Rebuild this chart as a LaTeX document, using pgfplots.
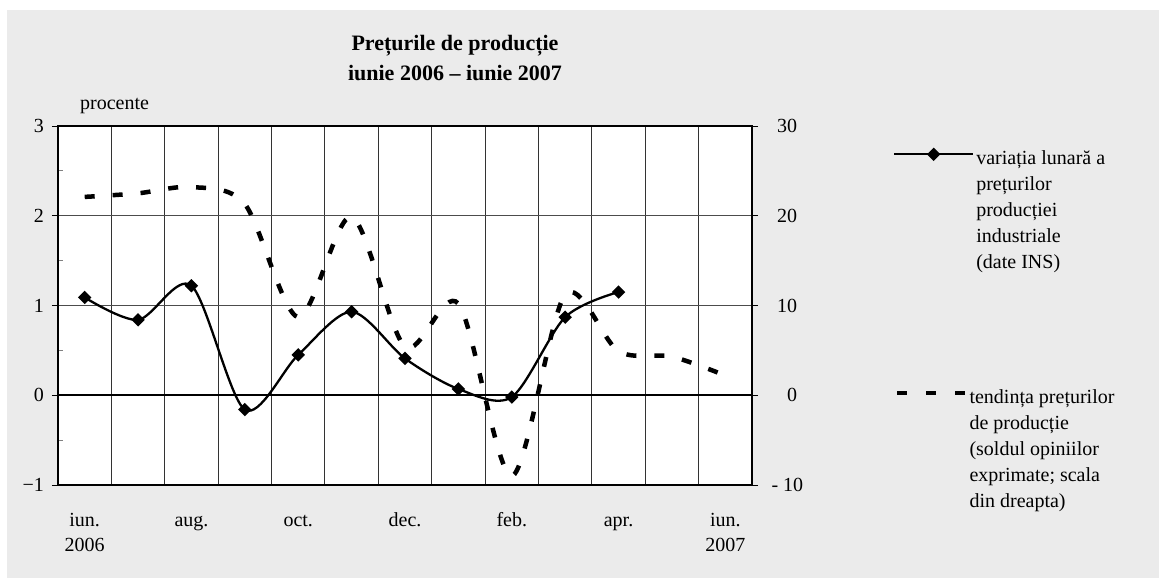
\documentclass[border=0pt]{standalone}
\usepackage{fontspec}
\setmainfont{Liberation Serif}
\usepackage{pgfplots}
\pgfplotsset{compat=1.18}
\begin{document}
\begin{tikzpicture}
\useasboundingbox (0pt,0pt) rectangle (1164pt,580pt);
\fill[white] (0pt,0pt) rectangle (1164pt,580pt);
\fill[black!8] (7pt,2pt) rectangle (1159pt,570pt);
\node[anchor=base, inner sep=0pt, font=\fontsize{22}{26}\selectfont\bfseries] at (455pt,529pt) {Prețurile de producție};
\node[anchor=base, inner sep=0pt, font=\fontsize{22}{26}\selectfont\bfseries] at (455pt,499pt) {iunie 2006 – iunie 2007};
\node[anchor=base west, inner sep=0pt, font=\fontsize{20}{24}\selectfont] at (80pt,470pt) {procente};
\begin{axis}[
  at={(58pt,95pt)}, anchor=south west, scale only axis,
  width=694pt, height=359pt,
  xmin=0, xmax=13, ymin=-1, ymax=3,
  axis background/.style={fill=white},
  axis line style={line width=1.5pt},
  tick label style={font=\fontsize{20}{25}\selectfont},
  xtick={0.5,2.5,4.5,6.5,8.5,10.5,12.5},
  xticklabels={{\strut iun.\\2006},\strut aug.,\strut oct.,\strut dec.,\strut feb.,\strut apr.,{\strut iun.\\2007}},
  minor xtick={1,2,3,4,5,6,7,8,9,10,11,12},
  xminorgrids, minor x grid style={black!80, line width=0.9pt},
  xtick style={draw=none},
  xticklabel style={align=center, anchor=north, inner sep=0pt, yshift=-18pt},
  ytick={-1,0,1,2,3},
  yticklabels={−1,0,1,2,3},
  yticklabel style={anchor=east, inner sep=0pt, xshift=-8pt},
  minor ytick={-0.5,0.5,1.5,2.5},
  minor y tick style={xshift=5pt, line width=0.8pt},
  minor tick length=5pt,
  ytick pos=left, xtick pos=bottom,
  ymajorgrids, major y grid style={black!70, line width=0.9pt},
  tick align=outside, major tick length=6pt,
  major y tick style={line width=0.8pt, black},
  legend image code/.code={\draw[#1, mark repeat=2, mark phase=2, yshift=10.5pt] plot coordinates {(0pt,0pt) (39.5pt,0pt) (79pt,0pt)};},
  legend style={draw=none, fill=none, at={(1.2032,0.936)}, anchor=north west, inner sep=0pt, outer sep=0pt, cells={anchor=base west}, nodes={inner sep=2pt}, column sep=0pt, font=\fontsize{20}{26}\selectfont},
]
\addplot[black, line width=2.4pt, forget plot] coordinates {(0,0) (13,0)};
\addplot[black, line width=2.3pt, smooth, tension=0.5, mark=square*, mark size=3.6pt, mark options={rotate=45, solid}] coordinates {
(0.5,1.09) (1.5,0.84) (2.5,1.22) (3.5,-0.16) (4.5,0.45) (5.5,0.93) (6.5,0.41) (7.5,0.07) (8.5,-0.02) (9.5,0.87) (10.5,1.15)
};
\addlegendentry{\parbox[t]{180pt}{variația lunară a\\prețurilor\\producției\\industriale\\(date INS)}}
\end{axis}
\begin{axis}[
  at={(58pt,95pt)}, anchor=south west, scale only axis,
  width=694pt, height=359pt,
  xmin=0, xmax=13, ymin=-10, ymax=30,
  axis x line=none, axis y line*=right,
  axis line style={line width=1.5pt},
  tick label style={font=\fontsize{20}{28}\selectfont},
  ytick={-10,0,10,20,30},
  yticklabels={\makebox[41pt][r]{- 10},\makebox[35pt][r]{0},\makebox[35pt][r]{10},\makebox[35pt][r]{20},\makebox[35pt][r]{30}},
  yticklabel style={anchor=west, inner sep=0pt, xshift=4pt},
  tick align=outside, major tick length=6pt,
  major y tick style={line width=0.8pt, black},
  legend image code/.code={\draw[#1, dash pattern=on 10pt off 19pt, yshift=10pt] (0pt,0pt) -- (68pt,0pt);},
  legend style={draw=none, fill=none, at={(1.2061,0.272)}, anchor=north west, inner sep=0pt, outer sep=0pt, cells={anchor=base west}, nodes={inner sep=2pt}, column sep=0pt, font=\fontsize{20}{26}\selectfont},
]
\addplot[black, line width=4.5pt, smooth, tension=0.5, dash pattern=on 10pt off 18pt] coordinates {
(0.5,22.1) (1.5,22.5) (2.5,23.2) (3.5,21.3) (4.5,8.7) (5.5,19.9) (6.5,5.4) (7.5,10.2) (8.5,-9.0) (9.5,11.2) (10.5,4.9) (11.5,4.3) (12.5,2.2)
};
\addlegendentry{\parbox[t]{180pt}{tendința prețurilor\\de producție\\(soldul opiniilor\\exprimate; scala\\din dreapta)}}
\end{axis}
\end{tikzpicture}
\end{document}
